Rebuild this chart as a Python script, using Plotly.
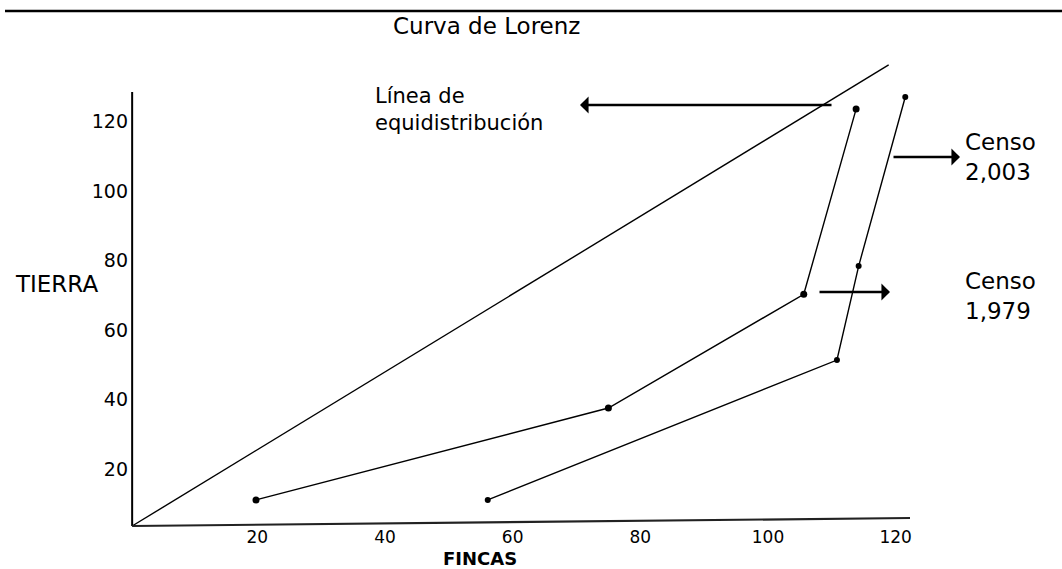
import plotly.graph_objects as go

# ---- data ----
fincas_1979 = [19.8, 75.0, 105.6, 113.8]
tierra_1979 = [11.2, 37.6, 70.3, 123.5]
fincas_2003 = [56.1, 110.8, 114.2, 121.5]
tierra_2003 = [11.2, 51.4, 78.4, 127.0]
equi_x = [0.4, 118.9]
equi_y = [3.7, 136.2]
x_ticks = [20, 40, 60, 80, 100, 120]
y_ticks = [20, 40, 60, 80, 100, 120]

W, H = 1062, 569
FONT = "DejaVu Sans"

# pixel -> data mapping used by the drawing
X0PX, XS = 129.6, 6.384
Y0PX, YS = 538.9, 3.48
L_PX, R_PX, T_PX, B_PX = 110, 1000, 40, 545

def xv(px):
    return (px - X0PX) / XS

def yv(py):
    return (Y0PX - py) / YS

fig = go.Figure()

line_style = dict(color="black", width=1.4)
fig.add_trace(go.Scatter(x=equi_x, y=equi_y, mode="lines", line=line_style,
                         hoverinfo="skip", showlegend=False))
fig.add_trace(go.Scatter(x=fincas_1979, y=tierra_1979, mode="lines+markers",
                         line=line_style, marker=dict(color="black", size=7),
                         name="Censo 1,979", showlegend=False))
fig.add_trace(go.Scatter(x=fincas_2003, y=tierra_2003, mode="lines+markers",
                         line=line_style, marker=dict(color="black", size=6),
                         name="Censo 2,003", showlegend=False))

# axis lines (drawn like the original figure)
fig.add_shape(type="line", xref="x", yref="y",
              x0=equi_x[0], y0=equi_y[0], x1=equi_x[0], y1=yv(92),
              line=dict(color="black", width=2))
fig.add_shape(type="line", xref="x", yref="y",
              x0=equi_x[0], y0=equi_y[0], x1=xv(910), y1=yv(518),
              line=dict(color="#222", width=2.2))
# top rule
fig.add_shape(type="line", xref="paper", yref="paper",
              x0=5 / W, x1=1.0, y0=1 - 11 / H, y1=1 - 11 / H,
              line=dict(color="black", width=2.5))

annotations = []
def text_ann(text, px, py, size, xanchor="left", bold=False, align="left"):
    annotations.append(dict(
        text=("<b>%s</b>" % text) if bold else text,
        xref="paper", yref="paper", x=px / W, y=1 - py / H,
        xanchor=xanchor, yanchor="middle", align=align, showarrow=False,
        font=dict(family=FONT, size=size, color="black")))

text_ann("Curva de Lorenz", 486, 26, 23, xanchor="center")
text_ann("Línea de<br>equidistribución", 373, 110, 21)
text_ann("Censo<br>2,003", 963, 157, 23)
text_ann("Censo<br>1,979", 963, 296, 23)
text_ann("TIERRA", 13, 284, 23)
text_ann("FINCAS", 480, 558, 18, xanchor="center", bold=True)

def arrow(tip_px, tail_px, py):
    annotations.append(dict(
        x=xv(tip_px), y=yv(py), ax=xv(tail_px), ay=yv(py),
        xref="x", yref="y", axref="x", ayref="y", text="",
        showarrow=True, arrowhead=1, arrowsize=1.1, arrowwidth=2.6,
        arrowcolor="black", standoff=0, startstandoff=0))

arrow(580, 833, 105)
arrow(960, 892, 157)
arrow(890, 818, 292)

fig.update_layout(
    width=W, height=H,
    margin=dict(l=0, r=0, t=0, b=0),
    paper_bgcolor="white", plot_bgcolor="white",
    showlegend=False,
    annotations=annotations,
    font=dict(family=FONT, color="black"),
    xaxis=dict(domain=[L_PX / W, R_PX / W], range=[xv(L_PX), xv(R_PX)],
               anchor="free", position=1 - 525 / H,
               tickvals=x_ticks, ticktext=[str(v) for v in x_ticks],
               showgrid=False, zeroline=False, showline=False,
               ticks="", tickfont=dict(family=FONT, size=17, color="black"),
               ticklabelstandoff=0),
    yaxis=dict(domain=[1 - B_PX / H, 1 - T_PX / H], range=[yv(B_PX), yv(T_PX)],
               anchor="free", position=132 / W,
               tickvals=y_ticks, ticktext=[str(v) for v in y_ticks],
               showgrid=False, zeroline=False, showline=False,
               ticks="", tickfont=dict(family=FONT, size=19, color="black"),
               ticklabelstandoff=4),
)

fig.write_html("out.html",
               config={"displayModeBar": False},
               post_script="document.body.style.margin='0';"
                           "document.body.style.overflow='hidden';")
